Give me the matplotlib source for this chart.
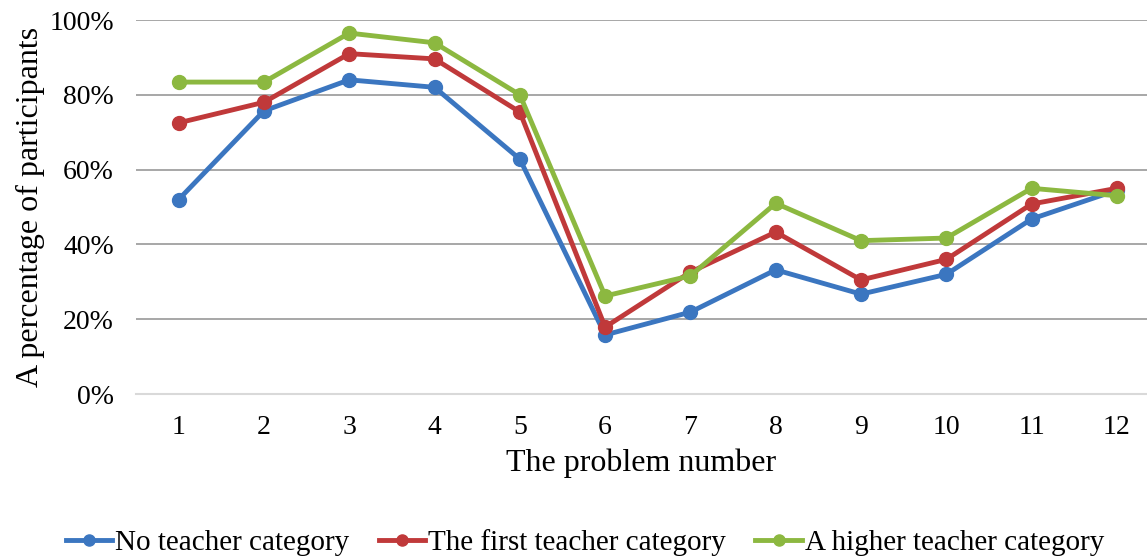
import matplotlib
matplotlib.use("Agg")
from matplotlib import pyplot as plt
from matplotlib.ticker import PercentFormatter

problems = list(range(1, 13))
no_category = [52, 75.7, 84, 82, 62.8, 15.8, 21.9, 33.2, 26.7, 32, 46.8, 54.5]
first_category = [72.5, 78, 91, 89.6, 75.4, 17.9, 32.6, 43.3, 30.5, 36, 50.8, 55]
higher_category = [83.4, 83.4, 96.5, 93.9, 80, 26.2, 31.6, 51, 41, 41.7, 55, 53]

series_names = ["No teacher category", "The first teacher category", "A higher teacher category"]
colors = ["#3b76c0", "#c0393a", "#8cb840"]

plt.rcParams['font.family'] = ['Liberation Serif', 'DejaVu Serif']

fig = plt.figure(figsize=(11.47, 5.57), dpi=100)
ax = fig.add_axes([136 / 1147, 1 - 394 / 557, (1147 - 136) / 1147, 374 / 557])

for vals, name, c in zip([no_category, first_category, higher_category], series_names, colors):
    ax.plot(problems, vals, color=c, linewidth=3.5, marker='o', markersize=10, label=name)

ax.set_xlim(0.5, 0.5 + (1147 - 136) / 85.3)
ax.set_ylim(0, 100)
ax.set_yticks(range(0, 101, 20))
ax.yaxis.set_major_formatter(PercentFormatter(decimals=0))
ax.set_xticks(problems)
ax.grid(axis='y', color='#a0a0a0', linewidth=1.3)
ax.set_axisbelow(True)
for s in ['top', 'right', 'left']:
    ax.spines[s].set_visible(False)
ax.spines['bottom'].set_color('#d9d9d9')
ax.spines['bottom'].set_linewidth(1.5)
ax.tick_params(axis='both', length=0, labelsize=20, pad=15)
ax.tick_params(axis='y', pad=16)

ax.set_xlabel("The problem number", fontsize=23, labelpad=6)
ax.set_ylabel("A percentage of participants", fontsize=23, labelpad=3)

fig.legend(loc='center', bbox_to_anchor=(0.51, 1 - 543 / 557), ncol=3, frameon=False,
           fontsize=21, handlelength=1.6, handletextpad=0.1, columnspacing=1.0,
           markerscale=0.8)

fig.savefig("out.png", dpi=100)
